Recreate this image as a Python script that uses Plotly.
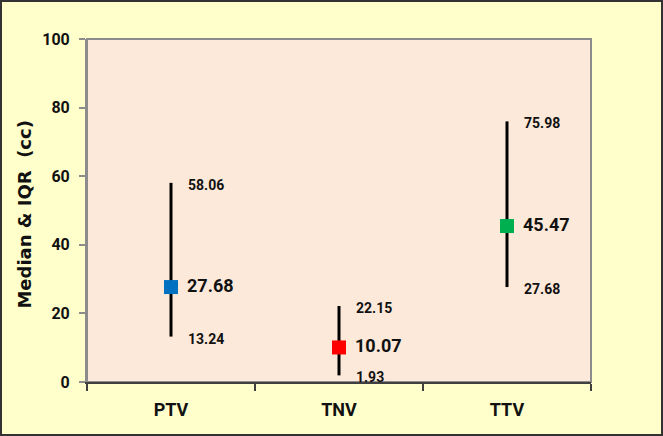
import plotly.graph_objects as go

# data
groups = ['PTV', 'TNV', 'TTV']
median = [27.68, 10.07, 45.47]
q_low = [13.24, 1.93, 27.68]
q_high = [58.06, 22.15, 75.98]
colors = ['#0070C0', '#FF0000', '#00B050']

W, H = 663, 436
ml, mr, mt, mb = 87, 72, 39, 54
pw, ph = W - ml - mr, H - mt - mb

fig = go.Figure()

fig.add_trace(go.Scatter(
    x=groups, y=median, mode='markers',
    marker=dict(symbol='square', size=14, color=colors, line=dict(width=0)),
    error_y=dict(type='data', symmetric=False,
                 array=[h - m for h, m in zip(q_high, median)],
                 arrayminus=[m - l for m, l in zip(median, q_low)],
                 color='black', thickness=3, width=0),
    showlegend=False, hoverinfo='skip'))

# value labels
for g, m, lo, hi in zip(groups, median, q_low, q_high):
    fig.add_annotation(x=g, y=m, text='<b>%.2f</b>' % m, showarrow=False,
                       xanchor='left', xshift=14, yshift=2,
                       font=dict(family='Roboto', size=18, color='#111'))
    fig.add_annotation(x=g, y=hi, text='<b>%.2f</b>' % hi, showarrow=False,
                       xanchor='left', xshift=15, yshift=-2,
                       font=dict(family='Roboto', size=14, color='#111'))
    fig.add_annotation(x=g, y=lo, text='<b>%.2f</b>' % lo, showarrow=False,
                       xanchor='left', xshift=15, yshift=-2,
                       font=dict(family='Roboto', size=14, color='#111'))

# y title
fig.add_annotation(xref='paper', yref='paper', x=(25 - ml) / pw, y=0.488,
                   xanchor='center', yanchor='middle',
                   text='<b>Median &amp; IQR  (cc)</b>', textangle=-90,
                   showarrow=False,
                   font=dict(family='DejaVu Sans', size=18, color='#111'))

# plot area border (gray) and outer frame
fig.add_shape(type='rect', xref='paper', yref='paper', x0=0, x1=1, y0=0, y1=1,
              line=dict(color='#8c8c8c', width=2), layer='below')
fig.add_shape(type='rect', xref='paper', yref='paper',
              x0=-(ml - 1) / pw, x1=1 + (mr - 1) / pw,
              y0=-(mb - 1) / ph, y1=1 + (mt - 1) / ph,
              line=dict(color='#333', width=2))

fig.update_layout(
    width=W, height=H, margin=dict(l=ml, r=mr, t=mt, b=mb),
    paper_bgcolor='#FFFFCC', plot_bgcolor='#FDE9D9',
    font=dict(family='Roboto', color='#111'))

fig.update_xaxes(type='category', range=[-0.5, 2.5], tickson='boundaries',
                 ticks='outside', ticklen=7, tickwidth=1.5, tickcolor='#404040',
                 showline=True, linecolor='#404040', linewidth=2,
                 showgrid=False, zeroline=False, ticklabelstandoff=10,
                 tickfont=dict(family='Roboto', size=18, color='#111'),
                 tickprefix='<b>', ticksuffix='</b>')
fig.update_yaxes(range=[0, 100], dtick=20, ticks='outside', ticklen=6,
                 tickcolor='#8c8c8c', tickwidth=1.5,
                 showline=True, linecolor='#8c8c8c', linewidth=2,
                 showgrid=False, zeroline=False, ticklabelstandoff=6,
                 tickfont=dict(family='Roboto', size=16, color='#111'),
                 tickprefix='<b>', ticksuffix='</b>')

fig.write_html("out.html", config={'displayModeBar': False},
               post_script="document.body.style.margin='0';")
